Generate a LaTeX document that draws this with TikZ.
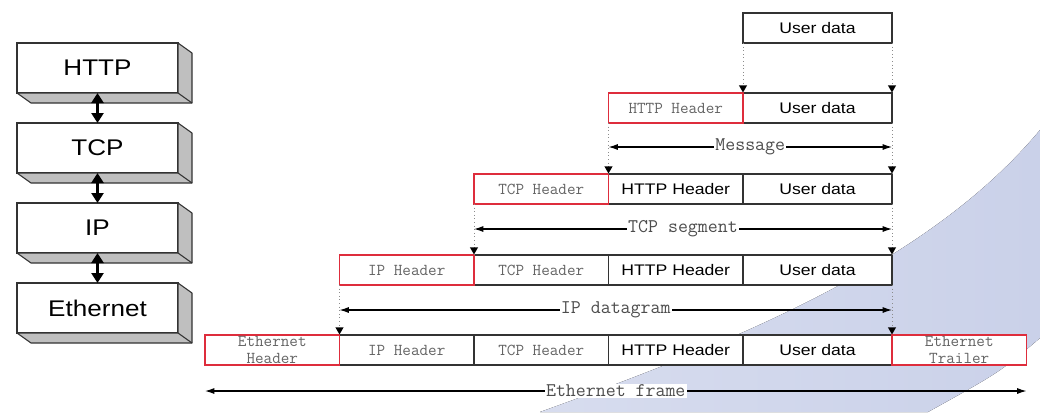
\documentclass[tikz,border=0pt]{standalone}
\usepackage{fontspec}
\setmainfont{Liberation Sans}[FakeStretch=1.15]
\usetikzlibrary{positioning,arrows.meta,shapes.geometric}
\definecolor{swoosh}{RGB}{202,209,233}
\definecolor{hdrred}{RGB}{222,45,60}
\definecolor{hdrgray}{RGB}{100,100,100}

\begin{document}
\begin{tikzpicture}[x=0.75pt, y=-0.75pt,
    stack/.style={draw=black!80, fill=white, line width=0.8pt, minimum width=120.75pt, minimum height=37.5pt, inner sep=0pt, outer sep=0pt, font=\fontsize{17}{20}\selectfont},
    face/.style={draw=black!80, fill=black!25, line width=0.8pt, line join=round},
    updown/.style={{Triangle[length=7.5pt,width=9pt]}-{Triangle[length=7.5pt,width=9pt]}, line width=2.2pt},
    cell/.style={draw=black!80, fill=white, line width=0.9pt, minimum width=100.875pt, minimum height=22.5pt, inner sep=0pt, outer sep=0pt, font=\fontsize{11.5}{13}\selectfont},
    data/.style={cell, minimum width=111.75pt},
    hdr/.style={cell, text=hdrgray, align=center, font=\ttfamily\fontsize{12.5}{12.5}\selectfont},
    redhdr/.style={hdr, draw=hdrred, line width=1.1pt},
    drop/.style={regular polygon, regular polygon sides=3, shape border rotate=180, fill=black, inner sep=0pt, minimum size=7pt, anchor=corner 1},
    dots/.style={dotted, draw=black!45, line width=0.7pt},
    dim/.style={{Latex[length=7pt,width=4.5pt]}-{Latex[length=7pt,width=4.5pt]}, line width=0.8pt},
    lbl/.style={fill=white, inner sep=1pt, text=black!70, font=\ttfamily\fontsize{14.5}{16}\selectfont}]
  \useasboundingbox (0,0) rectangle (1040,412);

  % background
  \fill [left color=swoosh!75, right color=swoosh] (540,412) .. controls (740,340) and (930,262) .. (1040,130) -- (1040,338) .. controls (1000,372) .. (928,412) -- cycle;

  % protocol stack
  \node [stack] (http) at (97.5,68) {HTTP};
  \node [stack] (tcp) [below=22.5pt of http] {TCP};
  \node [stack] (ip) [below=22.5pt of tcp] {IP};
  \node [stack] (eth) [below=22.5pt of ip] {Ethernet};
  \foreach \n in {http,tcp,ip,eth} {
    \filldraw [face] (\n.north east) -- ([shift={(14,10)}]\n.north east) -- ([shift={(14,10)}]\n.south east) -- ([shift={(14,10)}]\n.south west) -- (\n.south west) -- (\n.south east) -- cycle;
    \draw [face] (\n.south east) -- ([shift={(14,10)}]\n.south east);
  }
  \draw [updown] (http.south) -- (tcp.north);
  \draw [updown] (tcp.south) -- (ip.north);
  \draw [updown] (ip.south) -- (eth.north);

  % row 0
  \node [data, anchor=north west] (data0) at (743,13) {User data};
  % row 1
  \node [data, anchor=north west] (data1) at (743,93) {User data};
  \node [redhdr] (http1) [left=0pt of data1] {HTTP Header};
  % row 2
  \node [data, anchor=north west] (data2) at (743,174) {User data};
  \node [cell] (http2) [left=0pt of data2] {HTTP Header};
  \node [redhdr] (tcp2) [left=0pt of http2] {TCP Header};
  % row 3
  \node [data, anchor=north west] (data3) at (743,255) {User data};
  \node [cell] (http3) [left=0pt of data3] {HTTP Header};
  \node [hdr] (tcp3) [left=0pt of http3] {TCP Header};
  \node [redhdr] (ip3) [left=0pt of tcp3] {IP Header};
  % row 4
  \node [data, anchor=north west] (data4) at (743,335) {User data};
  \node [cell] (http4) [left=0pt of data4] {HTTP Header};
  \node [hdr] (tcp4) [left=0pt of http4] {TCP Header};
  \node [hdr] (ip4) [left=0pt of tcp4] {IP Header};
  \node [redhdr] (eth4) [left=0pt of ip4] {Ethernet\\Header};
  \node [redhdr] (trail4) [right=0pt of data4] {Ethernet\\Trailer};

  % dotted guides
  \draw [dots] (data0.south west) -- (data1.north west);
  \draw [dots] (data0.south east) -- (data1.north east);
  \draw [dots] (http1.south west) -- (http2.north west);
  \draw [dots] (data1.south east) -- (data2.north east);
  \draw [dots] (tcp2.south west) -- (tcp3.north west);
  \draw [dots] (data2.south east) -- (data3.north east);
  \draw [dots] (ip3.south west) -- (ip4.north west);
  \draw [dots] (data3.south east) -- (data4.north east);
  \foreach \p [count=\i] in {data1.north west, data1.north east, http2.north west, data2.north east, tcp3.north west, data3.north east, ip4.north west, data4.north east}
    \node [drop] (drop\i) at (\p) {};

  % extents
  \coordinate (msgl) at (http1.south west |- 0,147);
  \coordinate (msgr) at (data1.south east |- 0,147);
  \coordinate (segl) at (tcp2.south west |- 0,229);
  \coordinate (segr) at (data2.south east |- 0,229);
  \coordinate (dgrl) at (ip3.south west |- 0,310);
  \coordinate (dgrr) at (data3.south east |- 0,310);
  \coordinate (frml) at (eth4.south west |- 0,391);
  \coordinate (frmr) at (trail4.south east |- 0,391);
  \draw [dim] (msgl) -- (msgr) node [lbl, midway] (msg) {Message};
  \draw [dim] (segl) -- (segr) node [lbl, midway] (seg) {TCP segment};
  \draw [dim] (dgrl) -- (dgrr) node [lbl, midway] (dgr) {IP datagram};
  \draw [dim] (frml) -- (frmr) node [lbl, midway] (frm) {Ethernet frame};
\end{tikzpicture}
\end{document}
